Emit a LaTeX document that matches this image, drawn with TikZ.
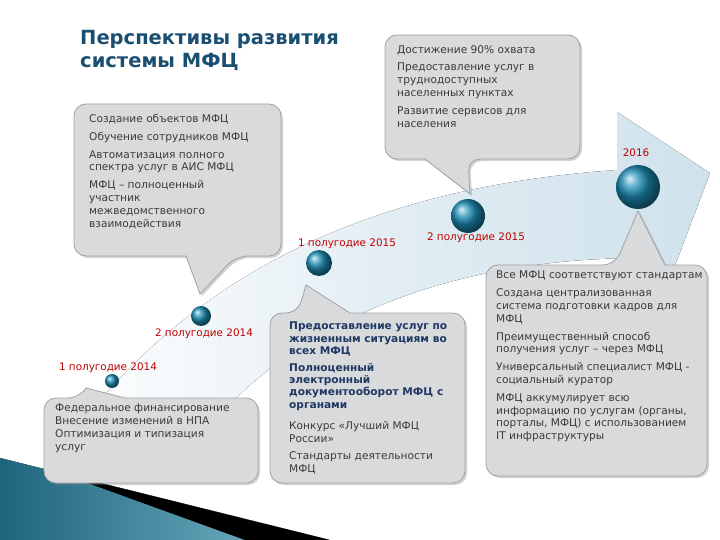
\documentclass[tikz,border=0pt]{standalone}
\usepackage{fontspec}
\setmainfont{DejaVu Sans}
\usetikzlibrary{shadows}
\definecolor{titlec}{HTML}{1B4F72}
\definecolor{txt}{HTML}{3A3A3A}
\definecolor{navy}{HTML}{1F3864}
\definecolor{redl}{HTML}{C00000}
\definecolor{boxf}{HTML}{D9DADC}
\definecolor{boxd}{HTML}{A0A2A6}
\definecolor{band}{HTML}{CFE2EC}
\definecolor{dotc}{HTML}{1C8CB4}
\definecolor{tealc}{HTML}{2A8FB0}
\begin{document}
\begin{tikzpicture}[x=1pt,y=-1pt,
  callout/.style={fill=boxf,draw=boxd,line width=0.8pt,drop shadow={opacity=0.35,shadow xshift=2pt,shadow yshift=-2pt}},
  btext/.style={anchor=north west,inner sep=0pt,align=left,text=txt,font=\fontsize{10.6}{12.8}\selectfont},
  lbl/.style={text=redl,inner sep=0pt,font=\fontsize{10.4}{12}\selectfont},
  dot/.style={circle,inner sep=0pt,ball color=dotc,shading=ball}]
\useasboundingbox (0,0) rectangle (720,540);
\fill[white] (0,0) rectangle (720,540);
% corner decoration
\fill[left color=tealc!70!black,right color=tealc!60!white] (0,458) -- (330,540) -- (0,540) -- cycle;
\fill[black] (60,473) -- (330,540) -- (245,540) -- cycle;
% band arrow
\fill[left color=white,right color=band,middle color=band!60] (60,450) .. controls (170,300) and (330,190) .. (617,170)
  -- (617,112) -- (710,173) -- (662,300) -- (628,258)
  .. controls (430,262) and (270,330) .. (175,470) -- cycle;
% title
\node[anchor=north west,inner sep=0pt,align=left,text=titlec,font=\fontsize{19.5}{23}\selectfont\bfseries] (title) at (80,30) {Перспективы развития\\системы МФЦ};
% callouts
\path[callout,rounded corners=12pt] (74,104) -- (281,104) -- (281,256) -- (236,256) [sharp corners]-- (200,294) -- (186,256) [rounded corners=12pt]-- (74,256) -- cycle;
\path[callout,rounded corners=12pt] (385,35) -- (580,35) -- (580,159) -- (468,159) [sharp corners]-- (470,194) -- (425,159) [rounded corners=12pt]-- (385,159) -- cycle;
\path[callout,rounded corners=12pt] (44,398) -- (80,398) [sharp corners]-- (86,388) -- (125,398) [rounded corners=12pt]-- (258,398) -- (258,483) -- (44,483) -- cycle;
\path[callout,rounded corners=12pt] (270,313) -- (298,313) [sharp corners]-- (306,285) -- (350,313) [rounded corners=12pt]-- (465,313) -- (465,483) -- (270,483) -- cycle;
\path[callout,rounded corners=12pt] (486,265) -- (615,265) [sharp corners]-- (638,211) -- (665,265) [rounded corners=12pt]-- (707,265) -- (707,476) -- (486,476) -- cycle;
% dots
\node[dot,minimum size=14pt] (d1) at (112,381) {};
\node[dot,minimum size=20pt] (d2) at (201,316) {};
\node[dot,minimum size=26pt] (d3) at (319,263) {};
\node[dot,minimum size=34pt] (d4) at (468,216) {};
\node[dot,minimum size=44pt] (d5) at (638,187) {};
% labels
\node[lbl] (l1) at (108,368) {1 полугодие 2014};
\node[lbl] (l2) at (204,334) {2 полугодие 2014};
\node[lbl] (l3) at (347,244) {1 полугодие 2015};
\node[lbl] (l4) at (476,238) {2 полугодие 2015};
\node[lbl] (l5) at (636,153) {2016};
% texts
\node[btext] (t1) at (89,114) {Создание объектов МФЦ\\[5pt]Обучение сотрудников МФЦ\\[5pt]Автоматизация полного\\спектра услуг в АИС МФЦ\\[5pt]МФЦ – полноценный\\участник\\межведомственного\\взаимодействия};
\node[btext] (t2) at (397,45) {Достижение 90\% охвата\\[5pt]Предоставление услуг в\\труднодоступных\\населенных пунктах\\[5pt]Развитие сервисов для\\населения};
\node[btext] (t3) at (55,404) {Федеральное финансирование\\Внесение изменений в НПА\\Оптимизация и типизация\\услуг};
\node[btext,text=navy,font=\fontsize{10.6}{12.2}\selectfont\bfseries] (t4) at (289,322) {Предоставление услуг по\\жизненным ситуациям во\\всех МФЦ\\[5pt]Полноценный\\электронный\\документооборот МФЦ с\\органами};
\node[btext] (t5) at (289,421) {Конкурс «Лучший МФЦ\\России»\\[5pt]Стандарты деятельности\\МФЦ};
\node[btext] (t6) at (496,271) {Все МФЦ соответствуют стандартам\\[5pt]Создана централизованная\\система подготовки кадров для\\МФЦ\\[5pt]Преимущественный способ\\получения услуг – через МФЦ\\[5pt]Универсальный специалист МФЦ -\\социальный куратор\\[5pt]МФЦ аккумулирует всю\\информацию по услугам (органы,\\порталы, МФЦ) с использованием\\IT инфраструктуры};
\end{tikzpicture}
\end{document}
